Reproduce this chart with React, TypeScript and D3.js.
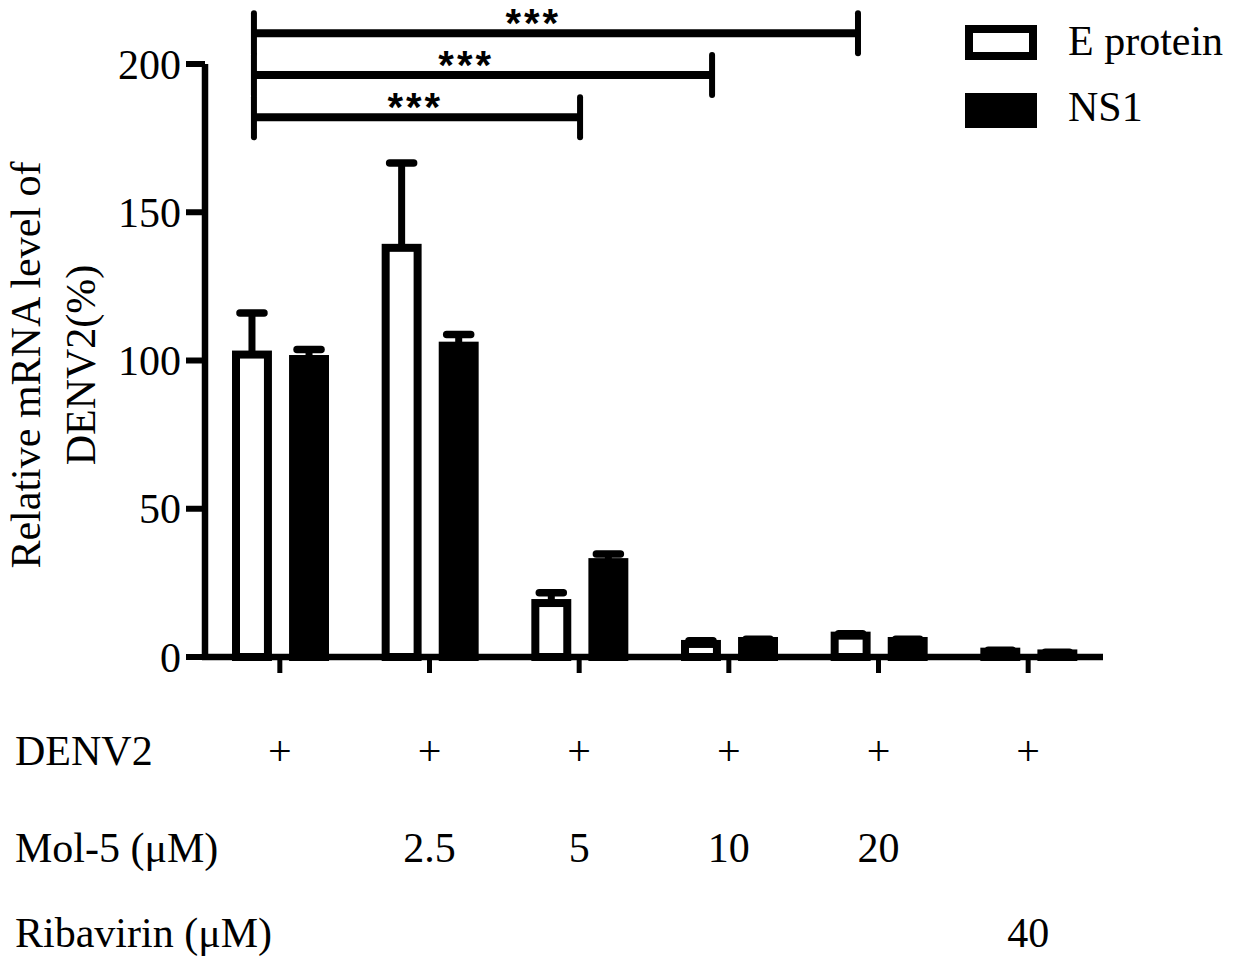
import * as d3 from "d3";
import React from "react";

// groups along the x axis
const groups = ["g1", "g2", "g3", "g4", "g5", "g6"];
const seriesNames = ["E protein", "NS1"];

// bar heights (%) and upper error (SD)
const eMean = [102, 138, 18.2, 4.4, 7.2, 1.8];
const eSd = [14, 28.6, 3.5, 1.1, 0.6, 0.5];
const ns1Mean = [100.5, 105, 32, 5.4, 5.4, 1.2];
const ns1Sd = [3.2, 3.8, 2.7, 0.6, 0.6, 0.4];

const yTicks = [0, 50, 100, 150, 200];

// treatment table under the plot
const denv2Row = ["+", "+", "+", "+", "+", "+"];
const mol5Row = ["", "2.5", "5", "10", "20", ""];
const ribavirinRow = ["", "", "", "", "", "40"];

// significance brackets: [group index, position inside band] for both ends, height in data units
const bracketFrom = [[0, 0.327], [0, 0.327], [0, 0.327]];
const bracketTo = [[4, 0.363], [3, 0.388], [2, 0.506]];
const bracketLevel = [210.4, 196.3, 182];
const bracketLabel = ["***", "***", "***"];
const bracketLabelPos = [0.46, 0.46, 0.49];

const W = 1235;
const H = 967;
const FONT = "'Liberation Serif', 'Times New Roman', serif";
const FS = 42;

const App: React.FC = () => {
  const x0 = d3.scaleBand().domain(groups).range([205, 1103]).padding(0);
  const x1 = d3
    .scaleBand()
    .domain(seriesNames)
    .range([27, 124])
    .paddingInner(0.3)
    .paddingOuter(0);
  const y = d3.scaleLinear().domain([0, 200]).range([657, 64]);

  const bw = x1.bandwidth();
  const sw = 8;

  const bars = groups.flatMap((g, i) => [
    { g, s: seriesNames[0], v: eMean[i], sd: eSd[i], fill: "#fff" },
    { g, s: seriesNames[1], v: ns1Mean[i], sd: ns1Sd[i], fill: "#000" },
  ]);

  const bandX = (p: number[]) => x0(groups[p[0]])! + p[1] * x0.bandwidth();
  const center = (g: string) => x0(g)! + x0.bandwidth() / 2;

  const rowText = (vals: string[], baseline: number) =>
    vals.map((t, i) => (
      <text
        key={i}
        x={center(groups[i])}
        y={baseline}
        textAnchor="middle"
        fontSize={FS}
      >
        {t}
      </text>
    ));

  return (
    <svg
      width={W}
      height={H}
      style={{ position: "absolute", left: 0, top: 0, background: "#fff" }}
      fontFamily={FONT}
    >
      <rect width={W} height={H} fill="#fff" />

      {/* bars */}
      {bars.map((b, i) => {
        const bx = x0(b.g)! + x1(b.s)!;
        const cx = bx + bw / 2;
        const top = y(b.v);
        const errTop = y(b.v + b.sd);
        return (
          <g key={i}>
            <line
              x1={cx}
              x2={cx}
              y1={top}
              y2={errTop}
              stroke="#000"
              strokeWidth={7}
            />
            <line
              x1={cx - 12}
              x2={cx + 12}
              y1={errTop}
              y2={errTop}
              stroke="#000"
              strokeWidth={7.5}
              strokeLinecap="round"
            />
            <rect
              x={bx + sw / 2}
              y={top}
              width={bw - sw}
              height={y(0) - top}
              fill={b.fill}
              stroke="#000"
              strokeWidth={sw}
            />
          </g>
        );
      })}

      {/* y axis */}
      <line x1={205} x2={205} y1={y(200)} y2={y(0) + 3} stroke="#000" strokeWidth={6.5} />
      {yTicks.map((t) => (
        <g key={t}>
          <line x1={186} x2={205} y1={y(t)} y2={y(t)} stroke="#000" strokeWidth={6} />
          <text x={181} y={y(t)} dy="0.35em" textAnchor="end" fontSize={FS}>
            {t}
          </text>
        </g>
      ))}

      {/* x axis */}
      <line x1={202} x2={1103} y1={y(0)} y2={y(0)} stroke="#000" strokeWidth={6.5} />
      {groups.map((g) => (
        <line
          key={g}
          x1={center(g)}
          x2={center(g)}
          y1={y(0)}
          y2={y(0) + 16}
          stroke="#000"
          strokeWidth={5}
        />
      ))}

      {/* y label */}
      <g transform={`translate(40,365) rotate(-90)`}>
        <text textAnchor="middle" fontSize={FS}>
          Relative mRNA level of
        </text>
      </g>
      <g transform={`translate(95,365) rotate(-90)`}>
        <text textAnchor="middle" fontSize={FS}>
          DENV2(%)
        </text>
      </g>

      {/* significance brackets */}
      {bracketLevel.map((lv, i) => {
        const xa = bandX(bracketFrom[i]);
        const xb = bandX(bracketTo[i]);
        const yy = y(lv);
        return (
          <g key={i}>
            <line x1={xa} x2={xb} y1={yy} y2={yy} stroke="#000" strokeWidth={8} />
            <line x1={xa} x2={xa} y1={yy - 20} y2={yy + 20} stroke="#000" strokeWidth={6} strokeLinecap="round" />
            <line x1={xb} x2={xb} y1={yy - 20} y2={yy + 20} stroke="#000" strokeWidth={6} strokeLinecap="round" />
            <text
              x={xa + (xb - xa) * bracketLabelPos[i] + 1.5}
              y={yy + 4}
              textAnchor="middle"
              fontSize={40}
              fontWeight="bold"
              letterSpacing={3}
              fontFamily="'Liberation Sans', Arial, sans-serif"
            >
              {bracketLabel[i]}
            </text>
          </g>
        );
      })}

      {/* legend */}
      <rect x={969} y={29} width={64} height={27} fill="#fff" stroke="#000" strokeWidth={8} />
      <text x={1068} y={55} fontSize={FS}>
        {seriesNames[0]}
      </text>
      <rect x={965} y={93} width={72} height={35} fill="#000" />
      <text x={1068} y={121} fontSize={FS}>
        {seriesNames[1]}
      </text>

      {/* treatment table */}
      <text x={15} y={765} fontSize={FS}>DENV2</text>
      {rowText(denv2Row, 765)}
      <text x={15} y={862} fontSize={FS}>Mol-5 (μM)</text>
      {rowText(mol5Row, 862)}
      <text x={15} y={947} fontSize={FS}>Ribavirin (μM)</text>
      {rowText(ribavirinRow, 947)}
    </svg>
  );
};

export default App;
